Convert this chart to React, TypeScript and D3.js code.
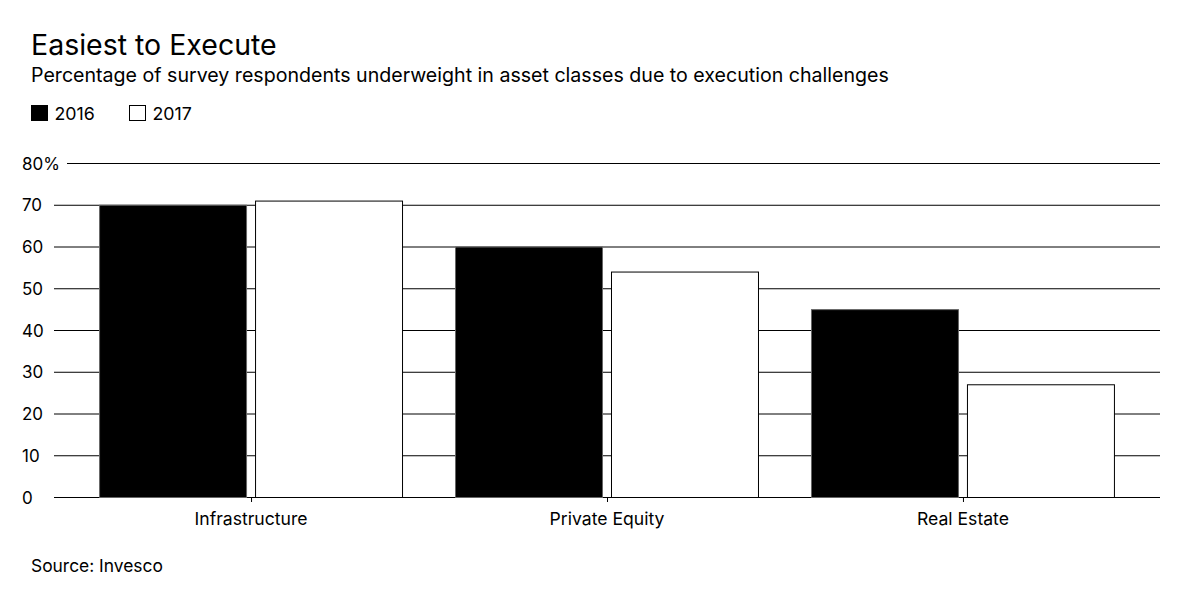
import React from "react";
import * as d3 from "d3";

const categories = ["Infrastructure", "Private Equity", "Real Estate"];
const years = ["2016", "2017"];
const values2016 = [70, 60, 45];
const values2017 = [71, 54, 27];
const yTicks = [0, 10, 20, 30, 40, 50, 60, 70, 80];

const W = 1200;
const H = 611;
const FONT = "Inter, 'Liberation Sans', Arial, sans-serif";

export default function App() {
  const y = d3.scaleLinear().domain([0, 80]).range([497, 163]);
  const x0 = d3
    .scaleBand<string>()
    .domain(categories)
    .range([54, 1160])
    .paddingInner(52 / 356)
    .paddingOuter(0.1266);
  const x1 = d3
    .scaleBand<string>()
    .domain(years)
    .range([0, x0.bandwidth()])
    .paddingInner(8 / 156);
  const series = [values2016, values2017];
  const fills = ["#000", "#fff"];

  return (
    <svg
      width={W}
      height={H}
      style={{ position: "absolute", left: 0, top: 0, background: "#fff" }}
      fontFamily={FONT}
    >
      <text x={31} y={55} fontSize={28.5} fill="#000">Easiest to Execute</text>
      <text x={31} y={81.5} fontSize={19.6} fill="#000">
        Percentage of survey respondents underweight in asset classes due to execution challenges
      </text>
      {/* legend */}
      {years.map((yr, i) => (
        <g key={yr} transform={`translate(${31 + i * 98},105)`}>
          <rect x={0.5} y={0.5} width={16} height={15} fill={fills[i]} stroke="#000" strokeWidth={1} />
          <text x={23.5} y={15} fontSize={17.8}>{yr}</text>
        </g>
      ))}
      {/* gridlines + labels */}
      {yTicks.map((t) => {
        const label = t === 80 ? "80%" : String(t);
        const lx1 = t === 80 ? 67 : 54;
        return (
          <g key={t}>
            <line x1={lx1} x2={1160} y1={y(t) + 0.5} y2={y(t) + 0.5} stroke="#000" strokeWidth={1} />
            <text x={22} y={y(t) + 6.5} fontSize={17}>{label}</text>
          </g>
        );
      })}
      {/* bars */}
      {categories.map((c, ci) => (
        <g key={c} transform={`translate(${x0(c)},0)`}>
          {years.map((yr, si) => {
            const v = series[si][ci];
            const bx = x1(yr)!;
            return (
              <rect
                key={yr}
                x={bx + 0.5}
                y={y(v) + 0.5}
                width={x1.bandwidth() - 1}
                height={y(0) - y(v)}
                fill={fills[si]}
                stroke={si === 0 ? "#666" : "#000"}
                strokeWidth={1}
              />
            );
          })}
          <line
            x1={x0.bandwidth() / 2 + 0.5}
            x2={x0.bandwidth() / 2 + 0.5}
            y1={y(0)}
            y2={y(0) + 5}
            stroke="#000"
          />
          <text x={x0.bandwidth() / 2} y={525} fontSize={17.6} textAnchor="middle">{c}</text>
        </g>
      ))}
      <text x={31} y={572} fontSize={17.4}>Source: Invesco</text>
    </svg>
  );
}
